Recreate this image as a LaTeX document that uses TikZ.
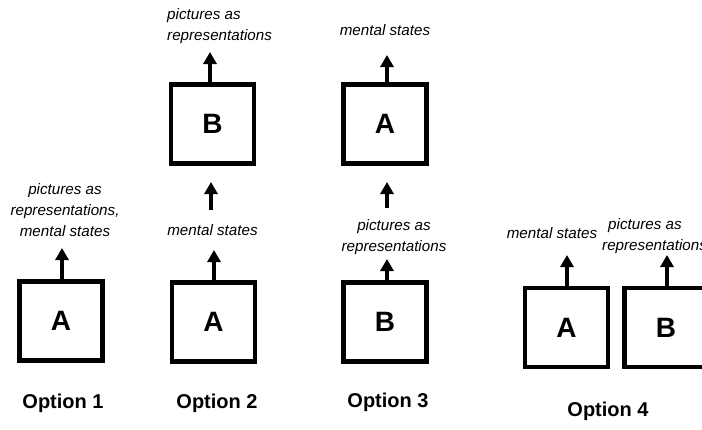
\documentclass[tikz,border=0pt]{standalone}
\usepackage{fontspec}
\setmainfont{Liberation Sans}
\usetikzlibrary{arrows.meta}
\begin{document}
\begin{tikzpicture}[x=1pt,y=-1pt,
  box/.style={draw,line width=4.8pt,minimum width=83pt,minimum height=79pt,inner sep=0pt,
    font=\fontsize{28}{28}\selectfont\bfseries},
  lbl/.style={inner sep=0pt,font=\fontsize{15.2}{21}\selectfont\itshape},
  opt/.style={inner sep=0pt,font=\fontsize{20}{20}\selectfont\bfseries},
  arr/.style={line width=3.5pt,-{Triangle[width=13pt,length=12pt]}}]
\clip (0,0) rectangle (702,429);
\fill[white] (0,0) rectangle (702,429);
% Option 1
\node[box] (A1) at (61,321) {A};
\node[lbl,align=center] (l1) at (65,210) {pictures as\\representations,\\mental states};
\coordinate (t1) at (62,248);
\draw[arr] (A1.north -| t1) -- (t1);
\node[opt] (o1) at (63,403) {Option 1};
% Option 2
\node[box] (B2) at (212.5,124) {B};
\node[box] (A2) at (213.5,322) {A};
\node[lbl,align=left,anchor=west] (l2a) at (167,26) {pictures as\\representations};
\node[lbl] (l2b) at (212.5,230) {mental states};
\coordinate (t2a) at (210,52);
\coordinate (s2b) at (211,210);
\coordinate (t2b) at (211,182);
\coordinate (t2c) at (214,250);
\draw[arr] (B2.north -| t2a) -- (t2a);
\draw[arr] (s2b) -- (t2b);
\draw[arr] (A2.north -| t2c) -- (t2c);
\node[opt] (o2) at (217,403) {Option 2};
% Option 3
\node[box] (A3) at (385,124) {A};
\node[box] (B3) at (385,322) {B};
\node[lbl] (l3a) at (385,30) {mental states};
\node[lbl,align=center] (l3b) at (394,237) {pictures as\\representations};
\coordinate (t3a) at (387,55);
\coordinate (s3b) at (387,208);
\coordinate (t3b) at (387,182);
\coordinate (t3c) at (387,259);
\draw[arr] (A3.north -| t3a) -- (t3a);
\draw[arr] (s3b) -- (t3b);
\draw[arr] (B3.north -| t3c) -- (t3c);
\node[opt] (o3) at (388,402) {Option 3};
% Option 4
\node[box] (A4) at (566.5,327.5) {A};
\node[box] (B4) at (666,327.5) {B};
\node[lbl] (l4a) at (552,233) {mental states};
\node[lbl,align=left,anchor=west] (l4b) at (602,236) {\hspace*{6pt}pictures as\\representations};
\coordinate (t4a) at (567,255);
\coordinate (t4b) at (667,255);
\draw[arr] (A4.north -| t4a) -- (t4a);
\draw[arr] (B4.north -| t4b) -- (t4b);
\node[opt] (o4) at (608,411) {Option 4};
\end{tikzpicture}
\end{document}
